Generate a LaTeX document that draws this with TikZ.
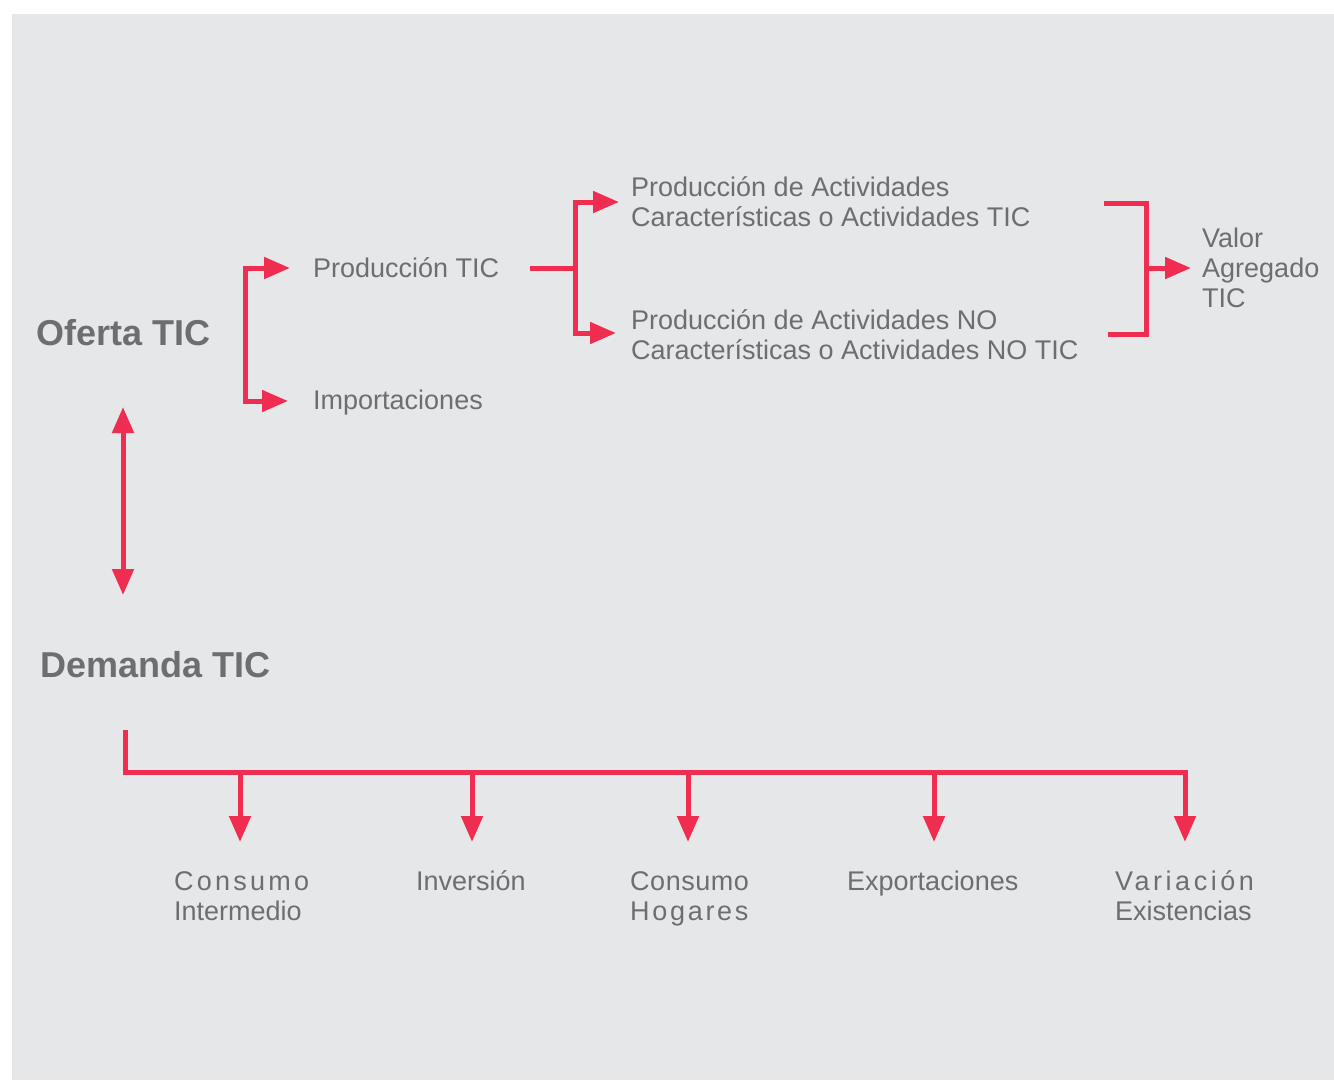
\documentclass[tikz,border=0pt]{standalone}
\usepackage{fontspec}
\setmainfont{Liberation Sans}
\usetikzlibrary{arrows.meta,positioning}
\definecolor{fondo}{HTML}{E6E7E8}
\definecolor{rojo}{HTML}{EE2D50}
\definecolor{texto}{HTML}{6D6E71}

\begin{document}
\begin{tikzpicture}[x=1pt,y=-1pt,
  linea/.style={draw=rojo,line width=5pt},
  flecha/.style={linea,-{Triangle[length=26pt,width=21pt]}},
  doble/.style={linea,{Triangle[length=26pt,width=21pt]}-{Triangle[length=26pt,width=21pt]}},
  txt/.style={text=texto,font=\fontsize{27}{30}\selectfont,inner sep=0pt,align=left,anchor=west},
  titulo/.style={text=texto,font=\fontsize{36}{40}\selectfont\bfseries,inner sep=0pt,anchor=west}]

\useasboundingbox (0,0) rectangle (1334,1080);
\fill[white] (0,0) rectangle (1334,1080);
\fill[fondo] (12,14) rectangle (1334,1080);

% oferta
\node[titulo] (oferta) at (36,333) {Oferta TIC};
\node[titulo] (demanda) at (40,665) {Demanda TIC};
\node[txt] (prod) at (313,268) {Producción TIC};
\node[txt] (imp) at (313,403) {Importaciones};
\node[txt] (carac) at (631,202) {Producción de Actividades\\Características o Actividades TIC};
\node[txt] (nocarac) at (631,335) {Producción de Actividades NO\\Características o Actividades NO TIC};
\node[txt] (valor) at (1202,268) {Valor\\Agregado\\TIC};

\coordinate (r1) at (245,334);
\coordinate (r2) at (575,268);
\coordinate (r3) at (1146,268);

\draw[doble] (123,407) -- (123,595);
\draw[flecha] (r1) |- ([xshift=-23pt]prod.west);
\draw[flecha] (r1) |- ([xshift=-25pt]imp.west |- 0,401);
\draw[linea] (530,268) -- (r2);
\draw[flecha] (r2) |- ([xshift=-12pt]carac.west);
\draw[flecha] (r2) |- ([xshift=-15pt]nocarac.west |- 0,333);
\draw[linea] (1104,203) -| (1146,334) -- (1108,334);
\draw[flecha] (r3) -- ([xshift=-11pt]valor.west);

% demanda
\node[txt] (ci) at (174,896) {{\addfontfeature{LetterSpace=12}Consumo}\\Intermedio};
\node[txt] (inv) at (416,881) {Inversión};
\node[txt] (ch) at (630,899) {{\addfontfeature{LetterSpace=2}Consumo}\\{\addfontfeature{LetterSpace=10}Hogares}};
\node[txt] (exp) at (847,884) {Exportaciones};
\node[txt] (ve) at (1115,896) {{\addfontfeature{LetterSpace=13}Variación}\\Existencias};

\draw[flecha] (125,730) |- (1185,772) -- (1185,842);
\foreach \x in {240,472,688,934}{
\draw[flecha] (\x,772) -- (\x,842);
}

\end{tikzpicture}
\end{document}
